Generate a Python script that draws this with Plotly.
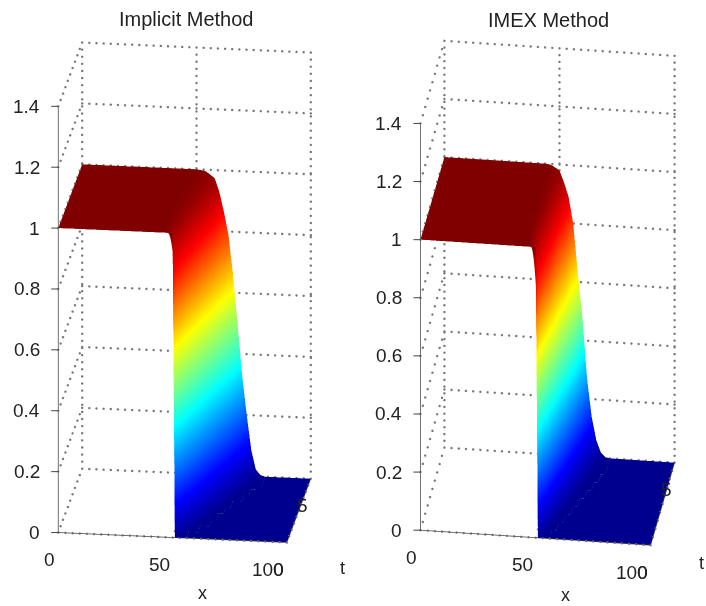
import plotly.graph_objects as go

x_vals = [0, 44, 46, 48, 50, 51, 52, 54, 56, 58, 60, 62, 64, 66, 68, 70, 72, 74, 76, 78, 80, 82, 84, 100]
t_vals = [0, 0.5, 1, 1.5, 2, 2.5, 3, 3.5, 4, 4.5, 5]
x_ticks = [0, 50, 100]
t_ticks = [0, 5]
z_ticks = [0, 0.2, 0.4, 0.6, 0.8, 1, 1.2, 1.4]
z_tick_text = ["0", "0.2", "0.4", "0.6", "0.8", "1", "1.2", "1.4"]

# one row per t; columns follow x_vals, trailing zeros left out
implicit_u = [
    [1, 1, 1, 1, 1],
    [1, 1, 1, .975, .86, .7, .45, .05],
    [1, 1, 1, .98, .93, .86, .77, .43, .12, .005],
    [1, 1, 1, .985, .97, .93, .88, .7, .42, .15, .018, .001],
    [1, 1, 1, .99, .975, .955, .93, .85, .65, .39, .17, .03, .003],
    [1, 1, 1, .995, .98, .975, .97, .9, .8, .61, .38, .18, .05, .006],
    [1, 1, 1, .995, .99, .985, .975, .95, .88, .77, .58, .37, .19, .06, .01],
    [1, 1, 1, .998, .99, .985, .98, .97, .93, .85, .74, .55, .36, .2, .07, .014, .002],
    [1, 1, 1, 1, .995, .99, .985, .975, .96, .905, .83, .71, .53, .35, .2, .08, .02, .004],
    [1, 1, 1, 1, .998, .995, .99, .98, .97, .945, .87, .78, .68, .52, .34, .2, .09, .02, .004, .001],
    [1, 1, 1, 1, 1, .999, .998, .995, .985, .973, .93, .865, .79, .66, .5, .33, .2, .085, .022, .005],
]
imex_u = [
    [1, 1, 1, 1, 1],
    [1, 1, 1, .97, .73, .5, .19, .005],
    [1, 1, .995, .955, .81, .63, .47, .11, .008],
    [1, 1, .993, .95, .86, .78, .6, .27, .07, .005],
    [1, 1, .992, .965, .895, .83, .72, .48, .18, .05, .005],
    [1, 1, .993, .975, .915, .87, .8, .58, .31, .12, .03, .003],
    [1, 1, .993, .98, .93, .895, .84, .66, .46, .22, .08, .018, .002],
    [1, 1, .994, .982, .94, .915, .88, .74, .57, .34, .15, .055, .012, .001],
    [1, 1, .995, .985, .955, .93, .9, .81, .63, .47, .23, .11, .04, .008, .001],
    [1, 1, .997, .988, .965, .945, .915, .85, .7, .55, .34, .17, .075, .025, .005, .001],
    [1, 1, .998, .99, .98, .96, .94, .89, .8, .63, .48, .27, .14, .06, .018, .003],
]

JET = [[0, "rgb(0,0,143)"], [0.11, "rgb(0,0,255)"], [0.36, "rgb(0,255,255)"],
       [0.61, "rgb(255,255,0)"], [0.86, "rgb(255,0,0)"], [1, "rgb(128,0,0)"]]
FONT = "Liberation Sans"
INK = "#444444"
TEXT = "#222222"
XMAX, TMAX, ZMAX = x_ticks[-1], t_ticks[-1], z_ticks[-1]


def full_rows(rows):
    return [list(r) + [0] * (len(x_vals) - len(r)) for r in rows]


def grid_trace(scene):
    xs, ys, zs = [], [], []

    def seg(a, b, n):
        for i in range(n + 1):
            f = i / n
            xs.append(a[0] + (b[0] - a[0]) * f)
            ys.append(a[1] + (b[1] - a[1]) * f)
            zs.append(a[2] + (b[2] - a[2]) * f)

    for z in z_ticks:
        seg((0, TMAX, z), (XMAX, TMAX, z), 32)
        seg((0, 0, z), (0, TMAX, z), 10)
    for x in x_ticks:
        seg((x, TMAX, 0), (x, TMAX, ZMAX), 60)
        seg((x, 0, 0), (x, TMAX, 0), 10)
    seg((0, 0, 0), (XMAX, 0, 0), 32)
    return go.Scatter3d(x=xs, y=ys, z=zs, mode="markers", scene=scene, showlegend=False,
                        hoverinfo="skip", marker=dict(color="#777777", size=1.4, line=dict(width=0)))


def surface(u, scene):
    return go.Surface(x=x_vals, y=t_vals, z=full_rows(u), scene=scene, colorscale=JET, cmin=0, cmax=1,
                      showscale=False, hoverinfo="skip",
                      lighting=dict(ambient=1, diffuse=0, specular=0, roughness=1, fresnel=0),
                      contours=dict(x=dict(highlight=False), y=dict(highlight=False), z=dict(highlight=False)))


def axis(rng):
    return dict(range=rng, showgrid=False, showbackground=False, zeroline=False, showspikes=False,
                showline=True, linecolor=INK, linewidth=1.5, ticks="", showticklabels=False,
                title=dict(text=""))


def scene_annotations():
    out = []
    font = dict(family=FONT, size=19, color=TEXT)

    def tick(x, y, z, ax, ay):
        out.append(dict(x=x, y=y, z=z, text=" ", showarrow=True, ax=ax, ay=ay, arrowhead=0,
                        arrowwidth=1, arrowcolor=INK, standoff=0, startstandoff=0))

    for v, s in zip(z_ticks, z_tick_text):
        tick(0, 0, v, -10, 0)
        out.append(dict(x=0, y=0, z=v, text=s, showarrow=False, xanchor="right", yanchor="middle",
                        xshift=-16, font=font))
    for v in x_ticks:
        tick(v, 0, 0, 0, 10)
        out.append(dict(x=v, y=0, z=0, text=str(v), showarrow=False, xanchor="right", yanchor="middle",
                        xshift=-1, yshift=-27, font=font))
    for v in t_ticks:
        out.append(dict(x=XMAX, y=v, z=0, text=str(v), showarrow=False, xanchor="right", yanchor="middle",
                        xshift=-1, yshift=-27, font=font))
    return out


def scene(dom, aspect, eye):
    return dict(domain=dom, aspectmode="manual", aspectratio=aspect,
                camera=dict(eye=eye, center=dict(x=0, y=0, z=0), up=dict(x=0, y=0, z=1),
                            projection=dict(type="orthographic")),
                xaxis=axis([0, XMAX]), yaxis=axis([0, TMAX]), zaxis=axis([0, ZMAX]),
                annotations=scene_annotations())


fig = go.Figure()
fig.add_trace(grid_trace("scene"))
fig.add_trace(surface(implicit_u, "scene"))
fig.add_trace(grid_trace("scene2"))
fig.add_trace(surface(imex_u, "scene2"))

R = 2.77
labels = [("Implicit Method", 186, 19, 20), ("IMEX Method", 548, 20, 20),
          ("x", 202, 593, 18), ("t", 342, 568, 18), ("x", 565, 595, 18), ("t", 701, 563, 18)]
fig.update_layout(
    width=706, height=606, margin=dict(l=0, r=0, t=0, b=0), paper_bgcolor="white",
    showlegend=False,
    scene=scene(dict(x=[0, 369 / 706], y=[1 - 585 / 606, 1]), dict(x=0.788, y=0.645, z=1.55),
                dict(x=R * 0.127 * 0.94, y=-R * 0.992 * 0.94, z=R * 0.341)),
    scene2=scene(dict(x=[389 / 706, 1], y=[1 - 586 / 606, 1]), dict(x=0.793, y=0.6, z=1.577),
                 dict(x=R * 0.136 * 0.88, y=-R * 0.99 * 0.88, z=R * 0.474)),
    annotations=[dict(text=s, x=px / 706, y=1 - py / 606, xref="paper", yref="paper", showarrow=False,
                      xanchor="center", yanchor="middle", font=dict(family=FONT, size=fs, color=TEXT))
                 for s, px, py, fs in labels],
)
fig.write_html("out.html", config=dict(displayModeBar=False), post_script="document.body.style.margin='0';")
